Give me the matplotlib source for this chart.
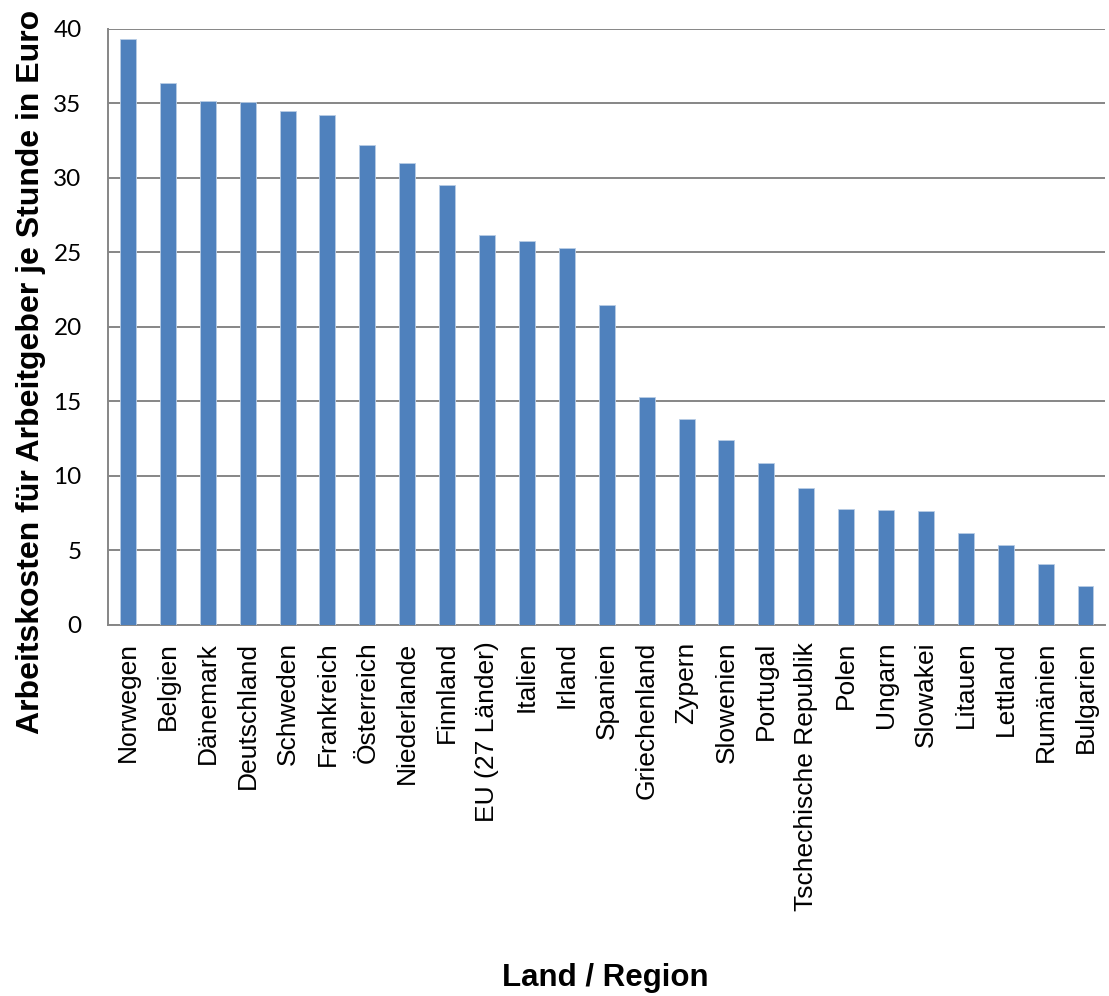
import numpy as np
import matplotlib.pyplot as plt

# Arbeitskosten je Stunde (Euro), absteigend sortiert
laender = ["Norwegen", "Belgien", "Dänemark", "Deutschland", "Schweden",
           "Frankreich", "Österreich", "Niederlande", "Finnland",
           "EU (27 Länder)", "Italien", "Irland", "Spanien", "Griechenland",
           "Zypern", "Slowenien", "Portugal", "Tschechische Republik",
           "Polen", "Ungarn", "Slowakei", "Litauen", "Lettland", "Rumänien",
           "Bulgarien"]
kosten = [39.3, 36.4, 35.2, 35.1, 34.5, 34.2, 32.2, 31.0, 29.5, 26.2,
          25.8, 25.3, 21.5, 15.3, 13.8, 12.4, 10.9, 9.2, 7.8, 7.7, 7.65,
          6.2, 5.4, 4.1, 2.6]
y_ticks = [0, 5, 10, 15, 20, 25, 30, 35, 40]

plt.rcParams['font.family'] = ['Liberation Sans', 'DejaVu Sans']

fig = plt.figure(figsize=(11.09, 9.96), dpi=100)
ax = fig.add_axes([0.0974, 0.3725, 0.8994, 0.5984])

x = np.arange(len(laender))
ax.bar(x, kosten, width=0.4, color="#4F81BD", edgecolor="#B9CDE5",
       linewidth=0.6, zorder=3)

ax.set_xlim(-0.5, len(laender) - 0.5)
ax.set_ylim(0, 40)
ax.set_yticks(y_ticks)
ax.set_yticklabels([str(t) for t in y_ticks], family=['Lato', 'DejaVu Sans'],
                   fontsize=17.5)
ax.set_xticks(x)
ax.set_xticklabels(laender, rotation=90, fontsize=19)
ax.tick_params(axis='y', length=0, pad=19)
ax.tick_params(axis='x', length=0, pad=12)

ax.grid(axis='y', color="#868686", linewidth=1.4, zorder=0)
for side in ["top", "right"]:
    ax.spines[side].set_visible(False)
for side in ["left", "bottom"]:
    ax.spines[side].set_color("#868686")
    ax.spines[side].set_linewidth(1.4)

fig.text(0.028, 0.627, "Arbeitskosten für Arbeitgeber je Stunde in Euro",
         rotation=90, ha="center", va="center", fontsize=23,
         fontweight="bold")
fig.text(0.546, 0.018, "Land / Region", ha="center", va="center",
         fontsize=22.5, fontweight="bold")

plt.savefig("out.png", dpi=100)
